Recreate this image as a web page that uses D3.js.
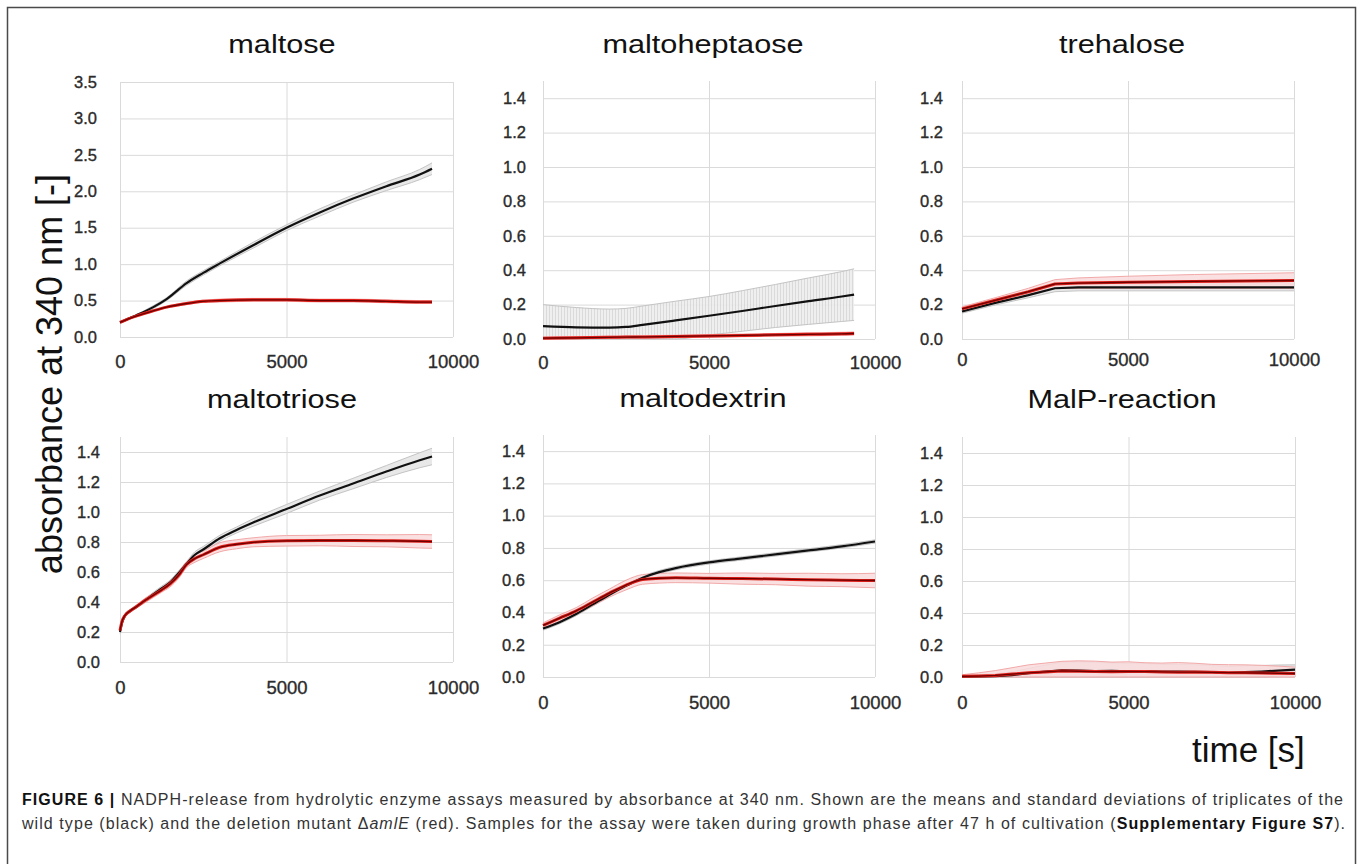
<!DOCTYPE html>
<html>
<head>
<meta charset="utf-8">
<script src="https://cdn.jsdelivr.net/npm/d3@7"></script>
<style>
  html, body { margin: 0; padding: 0; background: #fff; }
  svg { display: block; font-family: "Liberation Sans", Arial, sans-serif; }
</style>
</head>
<body>
<svg id="fig" width="1360" height="864"></svg>
<script>
// ---- measured absorbance (mean and SD of triplicates), time in seconds ----
// wt = wild type (black), mut = deletion mutant (red)

const maltoseTime  = [0, 250, 500, 1000, 1400, 2000, 2500, 3000, 4000, 5000, 6000, 7000, 8000, 9000, 9370];
const maltoseWt    = [0.20, 0.25, 0.30, 0.41, 0.52, 0.74, 0.88, 1.01, 1.26, 1.50, 1.71, 1.90, 2.07, 2.23, 2.31];
const maltoseWtSd  = [0.01, 0.01, 0.01, 0.02, 0.02, 0.03, 0.03, 0.03, 0.04, 0.04, 0.05, 0.05, 0.06, 0.07, 0.08];
const maltoseMut   = [0.20, 0.25, 0.29, 0.36, 0.41, 0.46, 0.49, 0.50, 0.51, 0.51, 0.50, 0.50, 0.49, 0.48, 0.48];
const maltoseMutSd = [0.01, 0.01, 0.01, 0.01, 0.01, 0.015, 0.015, 0.02, 0.02, 0.02, 0.02, 0.02, 0.02, 0.02, 0.02];

const heptaTime  = [0, 1000, 2000, 2500, 3000, 4000, 5000, 6000, 7000, 8000, 9000, 9370];
const heptaWt    = [0.075, 0.068, 0.066, 0.070, 0.082, 0.108, 0.135, 0.163, 0.192, 0.220, 0.247, 0.258];
const heptaWtSd  = [0.125, 0.115, 0.108, 0.108, 0.110, 0.112, 0.112, 0.118, 0.125, 0.135, 0.145, 0.150];
const heptaMut   = [0.005, 0.007, 0.010, 0.011, 0.012, 0.015, 0.018, 0.021, 0.024, 0.027, 0.030, 0.032];
const heptaMutSd = [0.006, 0.006, 0.006, 0.006, 0.007, 0.007, 0.008, 0.008, 0.008, 0.009, 0.009, 0.009];

const trehaTime  = [0, 1000, 2000, 2800, 3500, 5000, 7000, 10000];
const trehaWt    = [0.16, 0.21, 0.255, 0.295, 0.30, 0.30, 0.30, 0.30];
const trehaWtSd  = [0.01, 0.012, 0.015, 0.02, 0.02, 0.02, 0.02, 0.02];
const trehaMut   = [0.175, 0.225, 0.275, 0.32, 0.325, 0.33, 0.335, 0.34];
const trehaMutSd = [0.012, 0.015, 0.02, 0.025, 0.03, 0.035, 0.04, 0.045];

const triTime  = [0, 60, 150, 300, 500, 750, 1000, 1250, 1500, 1750, 2000, 2250, 2500, 3000, 3500, 4000, 5000, 6000, 7000, 8000, 9000, 9370];
const triWt    = [0.20, 0.26, 0.31, 0.34, 0.37, 0.41, 0.45, 0.49, 0.53, 0.59, 0.655, 0.715, 0.75, 0.825, 0.88, 0.93, 1.02, 1.11, 1.19, 1.27, 1.345, 1.37];
const triWtSd  = [0.01, 0.01, 0.01, 0.01, 0.01, 0.01, 0.015, 0.015, 0.015, 0.015, 0.015, 0.02, 0.02, 0.02, 0.02, 0.025, 0.03, 0.03, 0.035, 0.04, 0.05, 0.055];
const triMut   = [0.21, 0.27, 0.31, 0.34, 0.37, 0.41, 0.445, 0.48, 0.52, 0.575, 0.65, 0.69, 0.715, 0.765, 0.785, 0.798, 0.808, 0.81, 0.81, 0.808, 0.805, 0.803];
const triMutSd = [0.01, 0.01, 0.01, 0.01, 0.01, 0.015, 0.015, 0.015, 0.02, 0.02, 0.02, 0.025, 0.025, 0.03, 0.03, 0.03, 0.035, 0.035, 0.04, 0.04, 0.045, 0.045];

const dextTime  = [0, 500, 1000, 1500, 2000, 2500, 3000, 3500, 4000, 5000, 6000, 7000, 8000, 9000, 10000];
const dextWt    = [0.30, 0.34, 0.39, 0.45, 0.51, 0.565, 0.615, 0.65, 0.675, 0.71, 0.735, 0.76, 0.785, 0.81, 0.84];
const dextWtSd  = [0.01, 0.01, 0.01, 0.01, 0.01, 0.01, 0.01, 0.01, 0.01, 0.01, 0.01, 0.01, 0.01, 0.01, 0.01];
const dextMut   = [0.32, 0.365, 0.41, 0.465, 0.52, 0.57, 0.605, 0.612, 0.615, 0.612, 0.61, 0.607, 0.603, 0.60, 0.598];
const dextMutSd = [0.015, 0.02, 0.02, 0.025, 0.025, 0.03, 0.03, 0.03, 0.03, 0.03, 0.035, 0.035, 0.04, 0.04, 0.045];

const malpTime  = [0, 500, 1000, 1500, 2000, 2500, 3000, 3500, 4000, 4500, 5000, 5500, 6000, 6500, 7000, 7500, 8000, 8500, 9000, 9500, 10000];
const malpWt    = [0.002, 0.003, 0.006, 0.012, 0.024, 0.034, 0.042, 0.040, 0.037, 0.038, 0.036, 0.037, 0.033, 0.034, 0.032, 0.030, 0.026, 0.030, 0.034, 0.040, 0.046];
const malpWtSd  = [0.01, 0.012, 0.015, 0.02, 0.03, 0.04, 0.05, 0.055, 0.055, 0.05, 0.05, 0.048, 0.045, 0.045, 0.045, 0.042, 0.04, 0.04, 0.038, 0.035, 0.03];
const malpMut   = [0.004, 0.006, 0.010, 0.018, 0.026, 0.032, 0.038, 0.036, 0.034, 0.033, 0.035, 0.034, 0.032, 0.030, 0.031, 0.029, 0.027, 0.026, 0.025, 0.023, 0.022];
const malpMutSd = [0.01, 0.02, 0.03, 0.04, 0.05, 0.055, 0.06, 0.065, 0.065, 0.06, 0.06, 0.055, 0.055, 0.06, 0.055, 0.05, 0.05, 0.05, 0.048, 0.045, 0.04];

const substrates = ["maltose", "maltoheptaose", "trehalose", "maltotriose", "maltodextrin", "MalP-reaction"];
const xTicks = [0, 5000, 10000];
const yTicksWide = [0, 0.5, 1.0, 1.5, 2.0, 2.5, 3.0, 3.5];
const yTicksNarrow = [0, 0.2, 0.4, 0.6, 0.8, 1.0, 1.2, 1.4];

const yAxisTitle = "absorbance at 340 nm [-]";
const xAxisTitle = "time [s]";

// ---- panel placement on the page ----
const layout = [
  { x0: 120, x1: 453,  yZero: 337, yTop: 82,  yMax: 3.5, labelRight: 97,  xLabelBase: 367, titleX: 282,  titleY: 53 },
  { x0: 543, x1: 875,  yZero: 339, yTop: 81,  yMax: 1.5, labelRight: 526, xLabelBase: 368, titleX: 703,  titleY: 53 },
  { x0: 962, x1: 1294, yZero: 339, yTop: 81,  yMax: 1.5, labelRight: 943, xLabelBase: 365, titleX: 1122, titleY: 53 },
  { x0: 120, x1: 453,  yZero: 662, yTop: 437, yMax: 1.5, labelRight: 100, xLabelBase: 693, titleX: 282,  titleY: 408 },
  { x0: 543, x1: 875,  yZero: 677, yTop: 435, yMax: 1.5, labelRight: 525, xLabelBase: 708, titleX: 703,  titleY: 407 },
  { x0: 962, x1: 1295, yZero: 677, yTop: 437, yMax: 1.5, labelRight: 943, xLabelBase: 708, titleX: 1122, titleY: 408 }
];

const series = [
  { t: maltoseTime, wt: maltoseWt, wtSd: maltoseWtSd, mut: maltoseMut, mutSd: maltoseMutSd, yTicks: yTicksWide, curve: d3.curveMonotoneX },
  { t: heptaTime,   wt: heptaWt,   wtSd: heptaWtSd,   mut: heptaMut,   mutSd: heptaMutSd,   yTicks: yTicksNarrow, curve: d3.curveMonotoneX, hatch: true },
  { t: trehaTime,   wt: trehaWt,   wtSd: trehaWtSd,   mut: trehaMut,   mutSd: trehaMutSd,   yTicks: yTicksNarrow, curve: d3.curveLinear },
  { t: triTime,     wt: triWt,     wtSd: triWtSd,     mut: triMut,     mutSd: triMutSd,     yTicks: yTicksNarrow, curve: d3.curveMonotoneX },
  { t: dextTime,    wt: dextWt,    wtSd: dextWtSd,    mut: dextMut,    mutSd: dextMutSd,    yTicks: yTicksNarrow, curve: d3.curveMonotoneX },
  { t: malpTime,    wt: malpWt,    wtSd: malpWtSd,    mut: malpMut,    mutSd: malpMutSd,    yTicks: yTicksNarrow, curve: d3.curveLinear }
];

const svg = d3.select("#fig");

svg.append("rect").attr("width", 1360).attr("height", 864).attr("fill", "#fff");

// outer frame
svg.append("rect")
  .attr("x", 7.5).attr("y", 7.5)
  .attr("width", 1348).attr("height", 880)
  .attr("fill", "none").attr("stroke", "#4a4a4a").attr("stroke-width", 1.5);

// vertical hatching used for the wide SD band
const defs = svg.append("defs");
const pat = defs.append("pattern")
  .attr("id", "vhatch").attr("patternUnits", "userSpaceOnUse")
  .attr("width", 3).attr("height", 10);
pat.append("rect").attr("width", 3).attr("height", 10).attr("fill", "#ededed");
pat.append("line").attr("x1", 0.5).attr("x2", 0.5).attr("y1", 0).attr("y2", 10)
  .attr("stroke", "#d6d6d6").attr("stroke-width", 1);

const tickFont = (sel, size) => sel
  .attr("font-size", size).attr("fill", "#2b2b2b")
  .attr("stroke", "#2b2b2b").attr("stroke-width", 0.35)
  .attr("font-family", "'Liberation Sans', Arial, sans-serif");

substrates.forEach((name, i) => {
  const L = layout[i], S = series[i];
  const x = d3.scaleLinear().domain([0, 10000]).range([L.x0, L.x1]);
  const y = d3.scaleLinear().domain([0, L.yMax]).range([L.yZero, L.yTop]);
  const g = svg.append("g");

  // horizontal grid + y tick labels
  const yAxis = d3.axisLeft(y)
    .tickValues(S.yTicks)
    .tickFormat(d3.format(".1f"))
    .tickSize(-(L.x1 - L.x0))
    .tickPadding(L.x0 - L.labelRight);
  const ya = g.append("g").attr("transform", `translate(${L.x0},0)`).call(yAxis);
  ya.select(".domain").remove();
  ya.selectAll(".tick line").attr("stroke", "#dadada").attr("stroke-width", 1);
  ya.selectAll(".tick text").attr("x", -(L.x0 - L.labelRight)).call(tickFont, 16.5);

  // vertical grid + x tick labels
  const xAxis = d3.axisBottom(x)
    .tickValues(xTicks)
    .tickFormat(d3.format("d"))
    .tickSize(-(L.yZero - L.yTop))
    .tickPadding(L.xLabelBase - L.yZero - 12.5);
  const xa = g.append("g").attr("transform", `translate(0,${L.yZero})`).call(xAxis);
  xa.select(".domain").remove();
  xa.selectAll(".tick line").attr("stroke", "#dadada").attr("stroke-width", 1);
  xa.selectAll(".tick text").call(tickFont, 18.5);

  // panel title (slightly wide lettering)
  g.append("text")
    .attr("transform", `translate(${L.titleX},${L.titleY}) scale(1.18,1)`)
    .attr("text-anchor", "middle")
    .attr("font-size", 26).attr("fill", "#111")
    .text(name);

  const pts = S.t.map((t, k) => ({ t, wt: S.wt[k], wtSd: S.wtSd[k], mut: S.mut[k], mutSd: S.mutSd[k] }));

  const band = (m, s) => d3.area()
    .curve(S.curve)
    .x(d => x(d.t))
    .y0(d => y(Math.max(0, d[m] - d[s])))
    .y1(d => y(d[m] + d[s]));
  const edge = (m, s, sign) => d3.line()
    .curve(S.curve)
    .x(d => x(d.t))
    .y(d => y(Math.max(0, d[m] + sign * d[s])));
  const mean = m => d3.line().curve(S.curve).x(d => x(d.t)).y(d => y(d[m]));

  // wild type SD band
  g.append("path").datum(pts).attr("d", band("wt", "wtSd"))
    .attr("fill", S.hatch ? "url(#vhatch)" : "#e6e6e6").attr("opacity", 0.9);
  [1, -1].forEach(sg => g.append("path").datum(pts).attr("d", edge("wt", "wtSd", sg))
    .attr("fill", "none").attr("stroke", "#c4c4c4").attr("stroke-width", 1));

  // mutant SD band
  g.append("path").datum(pts).attr("d", band("mut", "mutSd"))
    .attr("fill", "#f9dada").attr("opacity", 0.85);
  [1, -1].forEach(sg => g.append("path").datum(pts).attr("d", edge("mut", "mutSd", sg))
    .attr("fill", "none").attr("stroke", "#f2a9a9").attr("stroke-width", 1));

  // wild type mean (black)
  g.append("path").datum(pts).attr("d", mean("wt"))
    .attr("fill", "none").attr("stroke", "#111").attr("stroke-width", 2.2)
    .attr("stroke-linejoin", "round");

  // mutant mean (red)
  g.append("path").datum(pts).attr("d", mean("mut"))
    .attr("fill", "none").attr("stroke", "#e0201a").attr("stroke-width", 3)
    .attr("stroke-linejoin", "round");
  g.append("path").datum(pts).attr("d", mean("mut"))
    .attr("fill", "none").attr("stroke", "#6e0000").attr("stroke-width", 1.3)
    .attr("stroke-linejoin", "round");
});

// shared axis titles
svg.append("text")
  .attr("transform", "translate(62,374) rotate(-90)")
  .attr("text-anchor", "middle")
  .attr("font-size", 36).attr("fill", "#111")
  .text(yAxisTitle);

svg.append("text")
  .attr("x", 1192).attr("y", 762)
  .attr("font-size", 35).attr("fill", "#111")
  .text(xAxisTitle);

// caption
const cap1 = svg.append("text")
  .attr("x", 22).attr("y", 805)
  .attr("font-size", 16).attr("fill", "#333")
  .attr("textLength", 1321).attr("lengthAdjust", "spacing");
cap1.append("tspan").attr("font-weight", "bold").attr("fill", "#111").text("FIGURE 6 |");
cap1.append("tspan").text(" NADPH-release from hydrolytic enzyme assays measured by absorbance at 340 nm. Shown are the means and standard deviations of triplicates of the");

const cap2 = svg.append("text")
  .attr("x", 22).attr("y", 829)
  .attr("font-size", 16).attr("fill", "#333")
  .attr("textLength", 1323).attr("lengthAdjust", "spacing");
cap2.append("tspan").text("wild type (black) and the deletion mutant \u0394");
cap2.append("tspan").attr("font-style", "italic").text("amlE");
cap2.append("tspan").text(" (red). Samples for the assay were taken during growth phase after 47 h of cultivation (");
cap2.append("tspan").attr("font-weight", "bold").attr("fill", "#111").text("Supplementary Figure S7");
cap2.append("tspan").text(").");
</script>
</body>
</html>
